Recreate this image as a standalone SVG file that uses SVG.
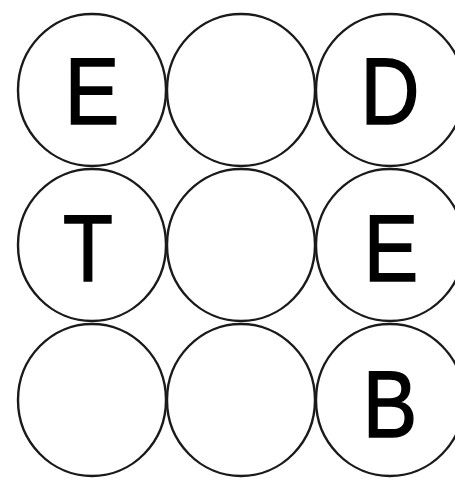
<svg xmlns="http://www.w3.org/2000/svg" width="455" height="478" viewBox="0 0 455 478">
<style>
.c{fill:none;stroke:#1a1a1a;stroke-width:2.4}
.t{font-family:"Liberation Sans",Arial,sans-serif;font-size:95px;fill:#000;stroke:#000;stroke-width:1.6;text-anchor:middle}
</style>
<rect width="455" height="478" fill="#fff"/>
<g id="n11"><ellipse class="c" cx="92" cy="90" rx="74" ry="76"/><text class="t" transform="translate(92 124) scale(0.86 1)">E</text></g>
<g id="n12"><ellipse class="c" cx="241" cy="90" rx="74" ry="76"/></g>
<g id="n13"><ellipse class="c" cx="390" cy="90" rx="74" ry="76"/><text class="t" transform="translate(390 124) scale(0.86 1)">D</text></g>
<g id="n21"><ellipse class="c" cx="92" cy="245" rx="74" ry="76"/><text class="t" transform="translate(88 281) scale(0.86 1)">T</text></g>
<g id="n22"><ellipse class="c" cx="241" cy="245" rx="74" ry="76"/></g>
<g id="n23"><ellipse class="c" cx="390" cy="245" rx="74" ry="76"/><text class="t" transform="translate(391 281) scale(0.86 1)">E</text></g>
<g id="n31"><ellipse class="c" cx="92" cy="400" rx="74" ry="76"/></g>
<g id="n32"><ellipse class="c" cx="241" cy="400" rx="74" ry="76"/></g>
<g id="n33"><ellipse class="c" cx="390" cy="400" rx="74" ry="76"/><text class="t" transform="translate(390 437) scale(0.86 1)">B</text></g>
<g id="connectors"/>
</svg>
